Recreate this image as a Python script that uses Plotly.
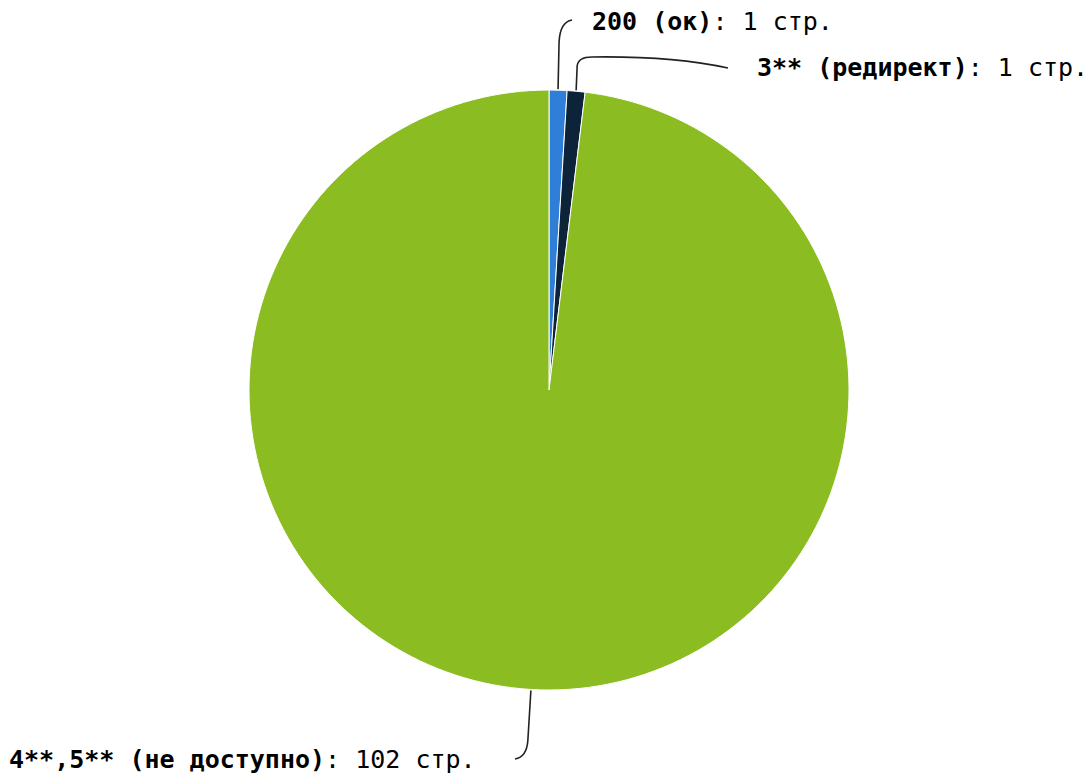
import math
import plotly.graph_objects as go

# Data
names = ["200 (ок)", "3** (редирект)", "4**,5** (не доступно)"]
values = [1, 1, 102]
unit = "стр."
colors = ["#2f7ed8", "#0d233a", "#8bbc21"]

W, H = 1088, 778
CX, CY, R = 549, 390, 300  # pie geometry in pixels

def px(x):
    return x / W

def py(y):
    return 1 - y / H

fig = go.Figure(go.Pie(
    labels=names, values=values, sort=False, direction="clockwise", rotation=0,
    marker=dict(colors=colors, line=dict(color="white", width=1)),
    textinfo="none", hoverinfo="label+value", showlegend=False,
    domain=dict(x=[px(CX - R), px(CX + R)], y=[py(CY + R), py(CY - R)]),
))

# anchor points on the slice edges, derived from the values
total = sum(values)
anchors = []
cum = 0
for v in values:
    mid = (cum + v / 2) / total * 2 * math.pi
    cum += v
    anchors.append((CX + R * math.sin(mid), CY - R * math.cos(mid)))

def P(x, y):
    return f"{px(x):.5f},{py(y):.5f}"

(ax0, ay0), (ax1, ay1), (ax2, ay2) = anchors
paths = [
    f"M {P(ax0, ay0 - 1)} L {P(ax0 + 1, 42)} Q {P(ax0 + 2, 22)} {P(572, 20)}",
    f"M {P(ax1, ay1 - 1)} L {P(ax1 + 1, 66)} Q {P(ax1 + 2, 57)} {P(592, 57)} C {P(660, 56)} {P(700, 62)} {P(728, 68)}",
    f"M {P(ax2, ay2 + 1)} L {P(ax2 - 3, 740)} Q {P(ax2 - 4, 757)} {P(515, 759)}",
]
for d in paths:
    fig.add_shape(type="path", path=d, xref="paper", yref="paper",
                  line=dict(color="#222222", width=1.6))

label_pos = [(590, 22, "left"), (755, 67, "left"), (478, 759, "right")]
font = dict(family="DejaVu Sans Mono", size=25, color="#000000")
for (n, v), (x, y, anc) in zip(zip(names, values), label_pos):
    fig.add_annotation(x=px(x), y=py(y), xref="paper", yref="paper",
                       text=f"<b>{n}</b>: {v} {unit}", showarrow=False,
                       xanchor=anc, yanchor="middle", font=font)

fig.update_layout(width=W, height=H, autosize=False,
                  margin=dict(l=0, r=0, t=0, b=0),
                  paper_bgcolor="white", plot_bgcolor="white")
fig.write_html("out.html", config={"displayModeBar": False},
               post_script="document.body.style.margin='0';document.body.style.overflow='hidden';")
